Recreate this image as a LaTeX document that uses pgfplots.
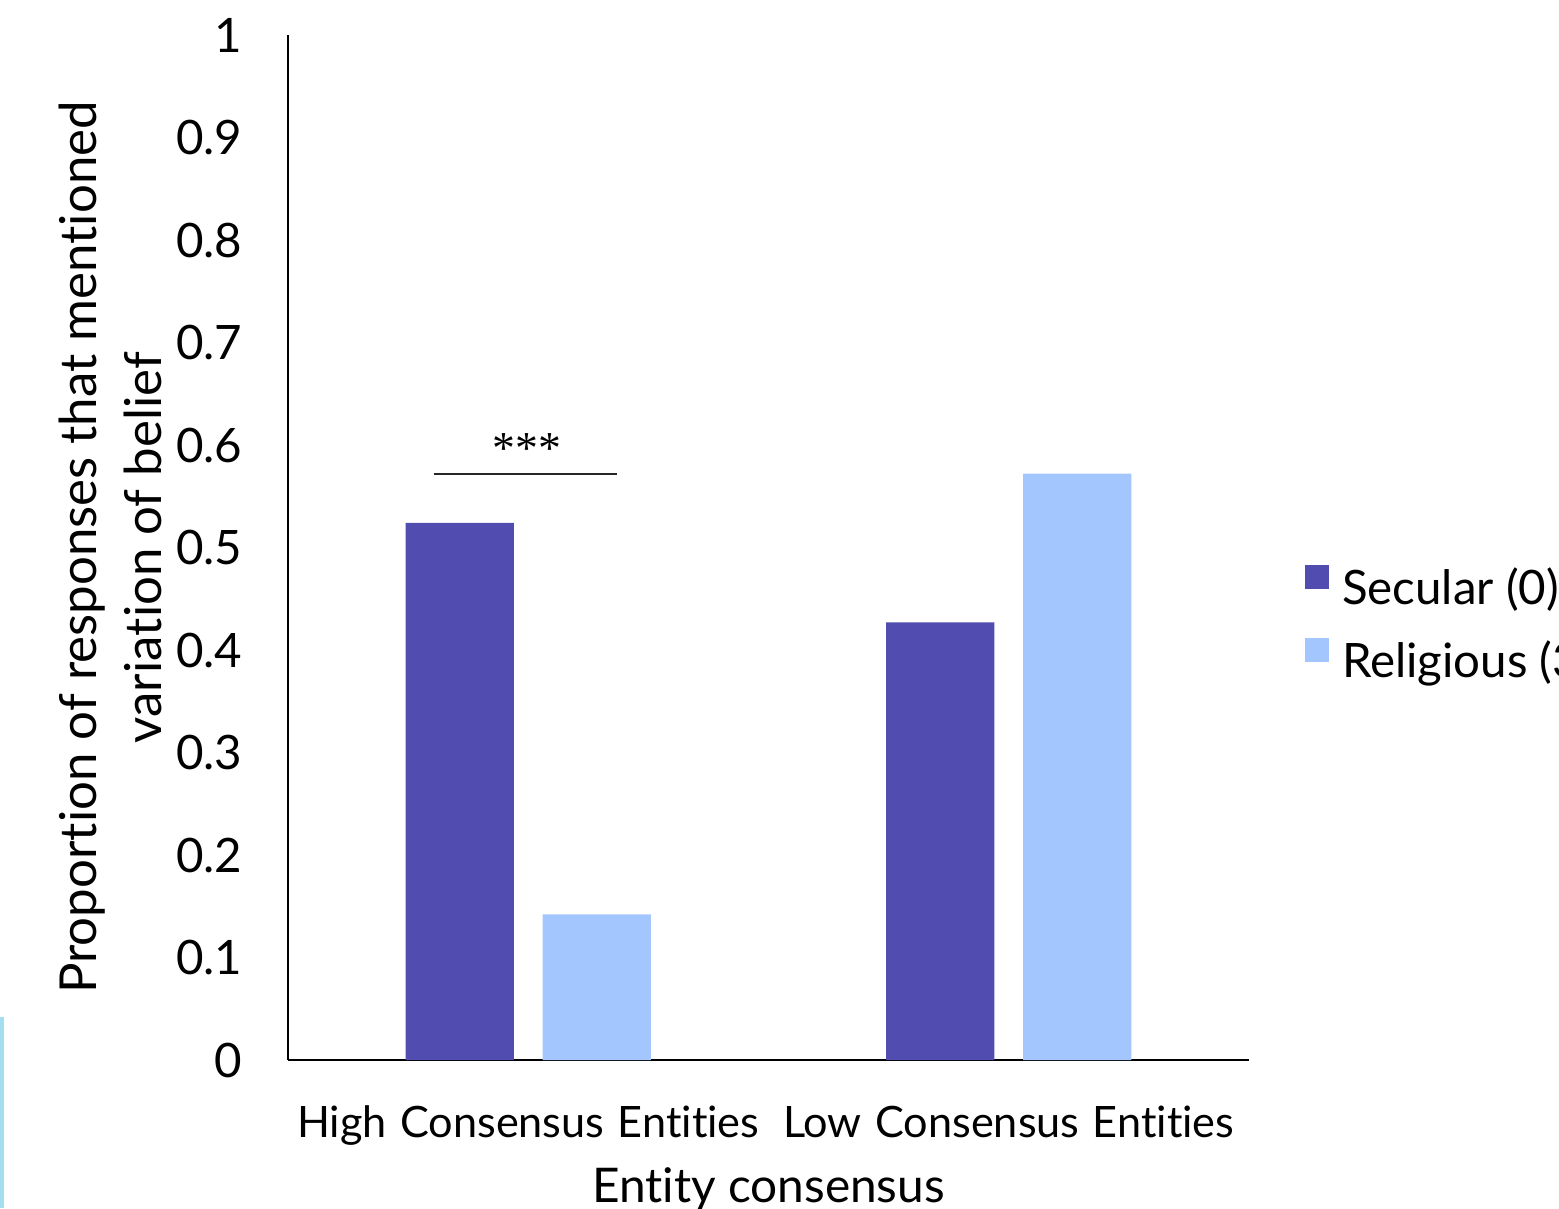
\documentclass[border=0pt]{standalone}
\usepackage{fontspec}
\setmainfont[Ligatures={NoCommon,NoRare}]{Lato}
\newfontfamily\starfont{Liberation Serif}
\usepackage{pgfplots}
\pgfplotsset{compat=1.18}
\definecolor{secular}{RGB}{80,76,176}
\definecolor{religious}{RGB}{164,198,254}
\definecolor{edgeblue}{RGB}{165,222,238}
\newcommand\ws{\hspace{0.31em}}
\begin{document}
\begin{tikzpicture}
\path[use as bounding box] (-2.88cm,-1.48cm) rectangle (12.71cm,10.60cm);
\clip (-2.88cm,-1.48cm) rectangle (12.71cm,10.60cm);
\begin{axis}[
  scale only axis,
  width=9.61cm, height=10.25cm,
  xmin=-0.5, xmax=1.5, ymin=0, ymax=1,
  axis x line=bottom, axis y line=left,
  axis line style={-, line width=0.8pt, black},
  ybar, bar width=0.225,
  xtick={0,1},
  xticklabels={High\ws Consensus\ws Entities, Low\ws Consensus\ws Entities},
  ytick={0,0.1,...,1.01},
  yticklabels={0,0.1,0.2,0.3,0.4,0.5,0.6,0.7,0.8,0.9,1},
  major tick length=0pt,
  yticklabel style={font=\fontsize{13.5}{16}\selectfont, anchor=east, inner sep=0pt, xshift=-0.45cm},
  xticklabel style={font=\fontsize{12.3}{15}\selectfont, anchor=base, yshift=-0.77cm},
  xlabel={Entity consensus},
  xlabel style={font=\fontsize{13.6}{17}\selectfont, at={(axis description cs:0.5,0)}, anchor=base, yshift=-1.42cm},
  ylabel={Proportion of responses that mentioned\\variation of belief},
  ylabel style={font=\fontsize{14.5}{6.5mm}\selectfont, align=center, at={(axis description cs:-0.1847,0.5)}, anchor=center},
  legend style={at={(axis description cs:1.0583,0.483)}, anchor=north west, draw=none, fill=none, inner sep=0pt, outer sep=0pt,
    font=\fontsize{13.5}{16}\selectfont, row sep=0.24cm,
    nodes={inner sep=0pt, text height=0.35cm, text depth=0.1cm, anchor=west},
    /tikz/every odd column/.append style={column sep=0.13cm}},
  legend image code/.code={\fill[#1] (0cm,0.03cm) rectangle (0.24cm,0.27cm);},
  legend cell align=left,
]
\addplot[fill=secular, draw=none, bar shift=-0.1426] coordinates {(0,0.524) (1,0.427)};
\addplot[fill=religious, draw=none, bar shift=0.1426] coordinates {(0,0.142) (1,0.572)};
\legend{Secular (0), Religious (3+)}
\draw[line width=0.6pt, black!85] (axis cs:-0.197,0.572) -- (axis cs:0.184,0.572);
\node[font=\starfont\fontsize{13}{15}\selectfont] at (axis cs:-0.003,0.597) {***};
\end{axis}
\draw[edgeblue, line width=1.5pt] (-2.87cm,-1.48cm) -- (-2.87cm,0.43cm);
\end{tikzpicture}
\end{document}
